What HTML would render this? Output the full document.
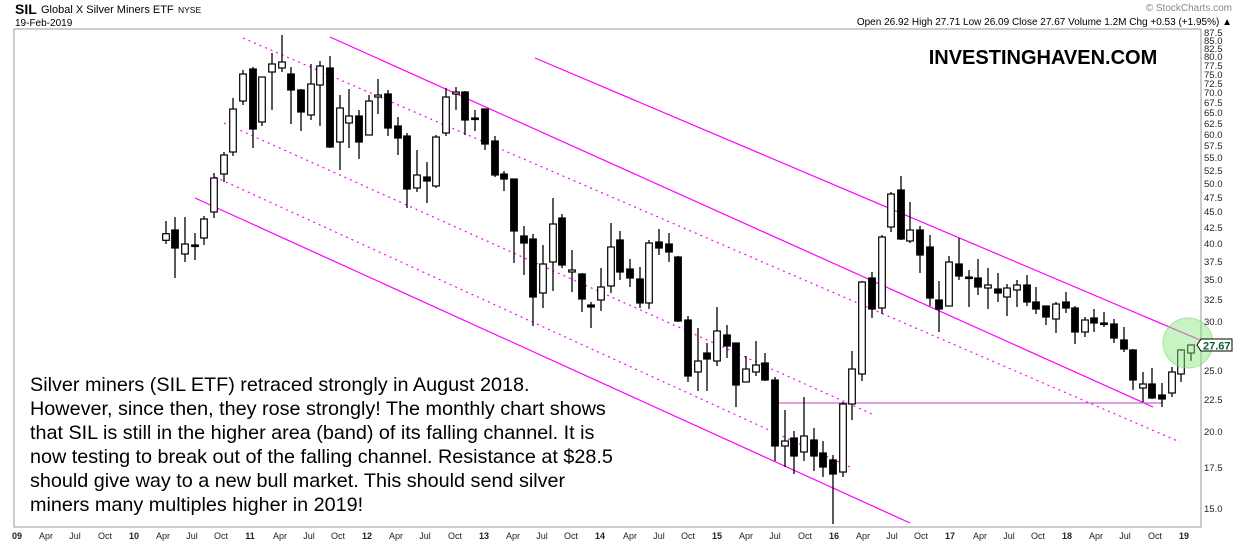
<!DOCTYPE html>
<html><head><meta charset="utf-8"><style>
html,body{margin:0;padding:0;background:#fff;}
svg{display:block;font-family:"Liberation Sans",Arial,sans-serif;}
</style></head><body>
<svg id="s" width="1240" height="546" viewBox="0 0 1240 546" xmlns="http://www.w3.org/2000/svg">
<rect width="1240" height="546" fill="#fff"/>
<text x="15" y="14" font-size="14" font-weight="bold">SIL</text>
<text x="41" y="13" font-size="11">Global X Silver Miners ETF</text>
<text x="178" y="13" font-size="8.5">NYSE</text>
<text x="15" y="26" font-size="10">19-Feb-2019</text>
<text x="1232" y="11" font-size="10" fill="#888" text-anchor="end">© StockCharts.com</text>
<text x="1232" y="25" font-size="10" text-anchor="end">Open 26.92 High 27.71 Low 26.09 Close 27.67 Volume 1.2M Chg +0.53 (+1.95%) ▲</text>
<rect x="14" y="29" width="1187" height="498" fill="none" stroke="#999" stroke-width="1"/>
<g id="lines" stroke="#f0f" fill="none">
<line x1="243" y1="38" x2="1180" y2="442" stroke-width="1.2" stroke-dasharray="2,4"/>
<line x1="224" y1="123" x2="872" y2="414" stroke-width="1.2" stroke-dasharray="2,4"/>
<line x1="215" y1="177" x2="850" y2="467" stroke-width="1.2" stroke-dasharray="2,4"/>
<line x1="330" y1="37" x2="1153" y2="407" stroke-width="1.2"/>
<line x1="535" y1="58" x2="1200" y2="340" stroke-width="1.2"/>
<line x1="195" y1="198" x2="910" y2="523" stroke-width="1.2"/>
<line x1="775" y1="403" x2="1163" y2="403" stroke-width="1" stroke="#c040c0"/>
</g>
<g id="c"></g>
<circle cx="1188" cy="343" r="25" fill="rgba(130,230,120,0.45)" stroke="rgba(120,220,110,0.6)"/>
<g font-size="9.5" fill="#222">
<text x="1204" y="36">87.5</text><text x="1204" y="44">85.0</text><text x="1204" y="52">82.5</text><text x="1204" y="60">80.0</text><text x="1204" y="69">77.5</text><text x="1204" y="78">75.0</text><text x="1204" y="87">72.5</text><text x="1204" y="96">70.0</text><text x="1204" y="106">67.5</text><text x="1204" y="116">65.0</text><text x="1204" y="127">62.5</text><text x="1204" y="138">60.0</text><text x="1204" y="149">57.5</text><text x="1204" y="161">55.0</text><text x="1204" y="174">52.5</text><text x="1204" y="187">50.0</text><text x="1204" y="201">47.5</text><text x="1204" y="215">45.0</text><text x="1204" y="231">42.5</text><text x="1204" y="247">40.0</text><text x="1204" y="265">37.5</text><text x="1204" y="283">35.0</text><text x="1204" y="303">32.5</text><text x="1204" y="325">30.0</text><text x="1204" y="374">25.0</text><text x="1204" y="403">22.5</text><text x="1204" y="435">20.0</text><text x="1204" y="471">17.5</text><text x="1204" y="512">15.0</text>
</g>
<polygon points="1197,345 1201,339 1232,339 1232,351 1201,351" fill="#fff" stroke="#000"/>
<text x="1203" y="349.5" font-size="11" font-weight="bold" fill="#063">27.67</text>
<g font-size="9" text-anchor="middle" fill="#222">
<text x="17" y="539" font-weight="bold">09</text><text x="46" y="539">Apr</text><text x="75" y="539">Jul</text><text x="105" y="539">Oct</text>
<text x="134" y="539" font-weight="bold">10</text><text x="163" y="539">Apr</text><text x="192" y="539">Jul</text><text x="221" y="539">Oct</text>
<text x="250" y="539" font-weight="bold">11</text><text x="280" y="539">Apr</text><text x="309" y="539">Jul</text><text x="338" y="539">Oct</text>
<text x="367" y="539" font-weight="bold">12</text><text x="396" y="539">Apr</text><text x="425" y="539">Jul</text><text x="455" y="539">Oct</text>
<text x="484" y="539" font-weight="bold">13</text><text x="513" y="539">Apr</text><text x="542" y="539">Jul</text><text x="571" y="539">Oct</text>
<text x="600" y="539" font-weight="bold">14</text><text x="630" y="539">Apr</text><text x="659" y="539">Jul</text><text x="688" y="539">Oct</text>
<text x="717" y="539" font-weight="bold">15</text><text x="746" y="539">Apr</text><text x="775" y="539">Jul</text><text x="805" y="539">Oct</text>
<text x="834" y="539" font-weight="bold">16</text><text x="863" y="539">Apr</text><text x="892" y="539">Jul</text><text x="921" y="539">Oct</text>
<text x="950" y="539" font-weight="bold">17</text><text x="980" y="539">Apr</text><text x="1009" y="539">Jul</text><text x="1038" y="539">Oct</text>
<text x="1067" y="539" font-weight="bold">18</text><text x="1096" y="539">Apr</text><text x="1125" y="539">Jul</text><text x="1155" y="539">Oct</text>
<text x="1184" y="539" font-weight="bold">19</text>
</g>
<text x="1043" y="64" font-size="20" font-weight="bold" text-anchor="middle">INVESTINGHAVEN.COM</text>
<g font-size="19.8" fill="#000">
<text x="30" y="391">Silver miners (SIL ETF) retraced strongly in August 2018.</text>
<text x="30" y="415">However, since then, they rose strongly! The monthly chart shows</text>
<text x="30" y="439">that SIL is still in the higher area (band) of its falling channel. It is</text>
<text x="30" y="463">now testing to break out of the falling channel. Resistance at $28.5</text>
<text x="30" y="487">should give way to a new bull market. This should send silver</text>
<text x="30" y="511">miners many multiples higher in 2019!</text>
</g>
</svg>
<script>
var d=[[166,221,244,233.7,240.3,0],[175,217,278,230,248,1],[185,217,262,244,254,0],[195,233,260,245,246,1],[204,216,245,219,238,0],[214,173,218,178,212,0],[224,152,182,155,174,0],[233,98,156,109,152,0],[243,70,105,74,101,0],[253,67,148,69,129,1],[262,77,126,77,122,0],[272,53,110,64,72,0],[282,35,72,62,68,0],[291,67,124,74,90,1],[301,89,131,90,112,1],[311,64,120,84,115,0],[320,61,126,66,85,0],[330,56,148,68,147,1],[340,95,170,108,142,0],[349,89,148,116,123,0],[359,110,159,116,142,1],[369,95,135,101,135,0],[378,79,114,95,97,0],[388,90,136,94,128,1],[398,117,155,126,138,1],[407,133,208,136,189,1],[417,150,192,175,188,0],[427,162,203,177,181,1],[436,135,188,137,186,0],[446,88,136,97,133,0],[456,87,110,92,94,0],[465,91,135,92,120,1],[475,110,131,118,119,1],[485,109,150,109,144,1],[495,136,177,141,175,1],[504,171,191,174,179,1],[514,179,263,179,231,1],[524,226,275,236,243,1],[533,234,326,239,297,1],[543,245,308,264,293,0],[553,198,291,224,262,0],[562,214,268,218,265,1],[572,250,292,270,272,0],[582,273,312,274,299,1],[591,302,328,305,307,1],[601,268,311,287,300,0],[611,223,293,247,286,0],[620,231,280,240,272,1],[630,259,287,269,278,1],[640,267,308,279,303,1],[649,240,309,243,303,0],[659,229,255,242,248,1],[669,233,262,244,252,1],[678,256,322,257,321,1],[688,316,382,320,376,1],[698,328,391,361,372,0],[707,343,391,353,359,1],[717,307,366,331,361,0],[727,325,358,335,346,1],[736,343,407,343,385,1],[746,356,382,369,382,0],[756,341,376,365,372,0],[765,353,381,363,380,1],[775,377,461,380,446,1],[785,410,467,441,446,0],[794,431,474,438,456,1],[804,397,461,436,452,0],[814,428,471,440,456,1],[823,441,477,453,467,1],[833,455,524,460,474,1],[843,402,477,404,472,0],[852,351,420,369,404,0],[862,281,381,282,374,0],[872,272,318,278,309,1],[882,235,314,237,308,0],[891,192,232,194,227,0],[901,176,240,190,239,1],[910,202,243,230,241,0],[920,226,273,230,255,1],[930,235,306,247,298,1],[939,281,332,300,309,1],[949,256,306,262,306,0],[959,238,280,264,276,1],[969,270,307,277,278,1],[978,259,295,278,287,1],[988,268,309,285,288,0],[998,273,302,289,293,1],[1007,284,316,288,297,0],[1017,280,307,285,290,0],[1027,275,306,285,302,1],[1036,287,314,302,309,1],[1046,306,325,306,317,1],[1056,302,333,304,319,0],[1066,292,313,302,308,1],[1075,306,344,308,332,1],[1085,317,337,320,332,0],[1094,309,332,318,323,1],[1104,312,327,323,324,1],[1114,319,343,324,338,1],[1124,327,352,340,349,1],[1133,349,390,350,380,1],[1143,372,402,384,388,0],[1152,368,399,384,398,1],[1162,383,407,395,399,1],[1172,367,397,372,393,0],[1181,349,382,350,374,0],[1191,345,361,345,353,0]];
var g=document.getElementById('c'),h='';
d.forEach(function(c){var x=c[0],t=c[3],b=Math.max(c[4],c[3]+1.5);
h+='<line x1="'+x+'" y1="'+c[1]+'" x2="'+x+'" y2="'+c[2]+'" stroke="#000" stroke-width="1.3"/>';
h+='<rect x="'+(x-3.3)+'" y="'+t+'" width="6.6" height="'+(b-t)+'" fill="'+(c[5]?'#000':'#fff')+'" stroke="#000" stroke-width="1.2"/>';});
g.innerHTML=h;
</script>
</body></html>
